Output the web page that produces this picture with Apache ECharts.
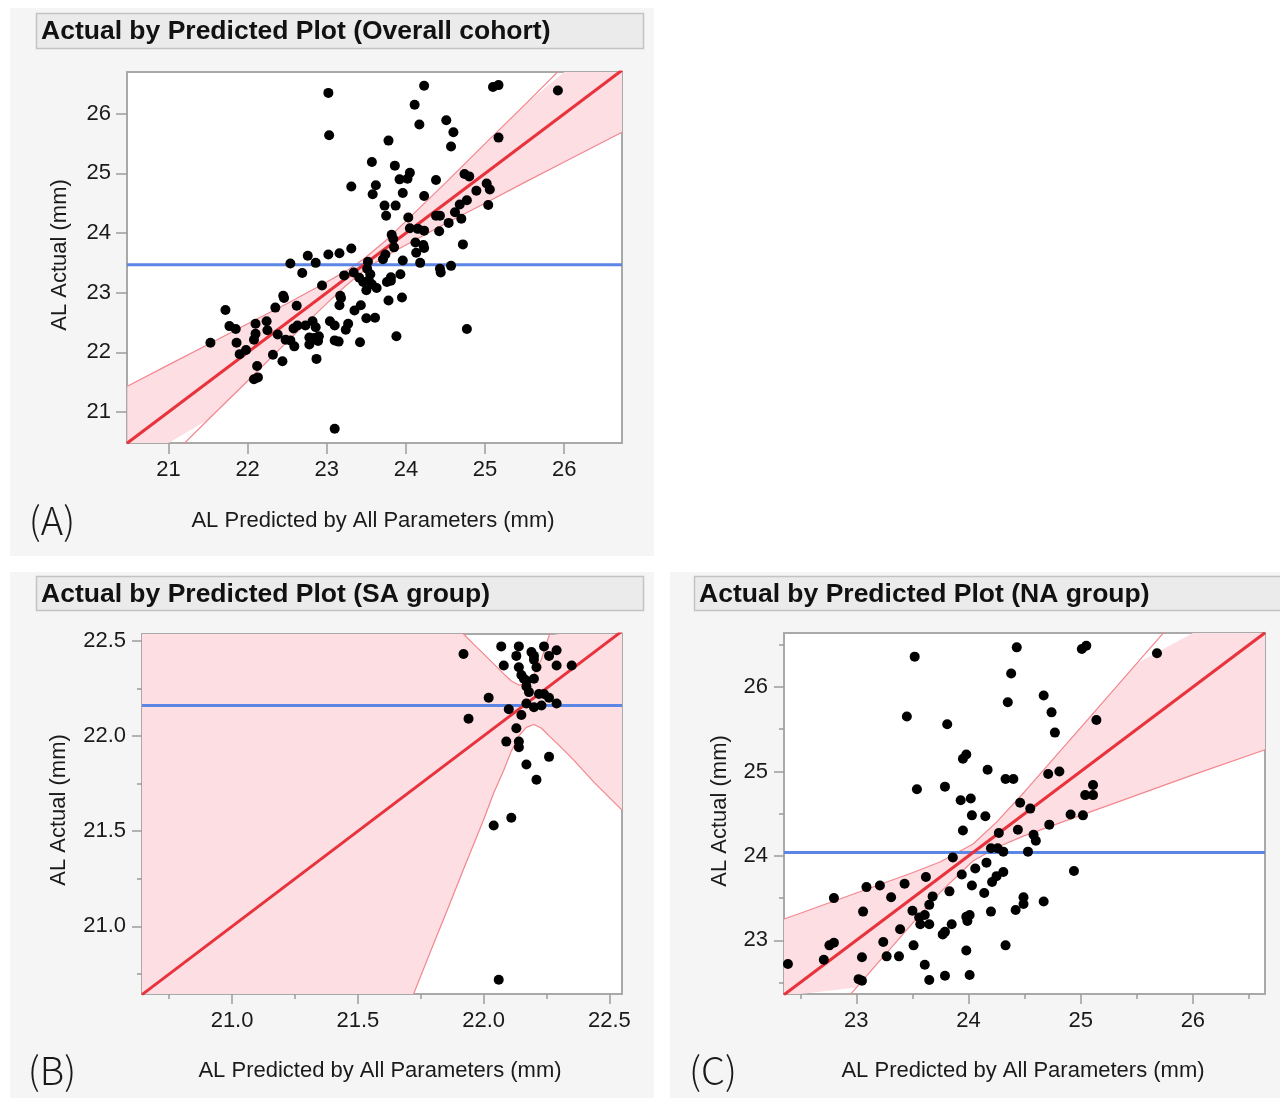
<!DOCTYPE html>
<html>
<head>
<meta charset="utf-8">
<title>Actual by Predicted Plots</title>
<script src="https://cdn.jsdelivr.net/npm/echarts@6/dist/echarts.min.js"></script>
<style>
  html, body { margin: 0; padding: 0; background: #fff; }
  .panel { position: absolute; background: #f5f5f5; }
  #chart { position: absolute; left: 0; top: 0; width: 1280px; height: 1098px; }
</style>
</head>
<body>
<div class="panel" style="left:10px;top:8px;width:644px;height:548px"></div>
<div class="panel" style="left:10px;top:572px;width:644px;height:526px"></div>
<div class="panel" style="left:670px;top:572px;width:610px;height:526px"></div>
<div id="chart"></div>
<script>
// ---------- (A) overall cohort ----------
const aPred = [23.02,24.23,25.10,25.17,25.92,24.11,24.17,23.03,24.51,24.60,24.57,25.17,23.78,23.57,23.86,24.05,23.92,24.02,23.31,23.62,
  23.58,23.96,24.38,24.23,23.73,23.87,23.75,24.03,24.74,24.80,24.89,25.02,25.06,25.04,24.77,24.68,24.62,24.70,24.54,24.42,
  24.38,24.43,24.05,24.15,24.23,23.82,23.84,24.12,24.13,24.22,24.23,24.72,23.85,24.18,23.96,24.43,24.44,24.57,23.93,24.77,
  23.31,23.16,23.02,22.76,22.86,22.54,22.69,23.52,23.71,23.74,23.51,23.55,23.22,23.34,23.41,23.53,23.46,23.57,23.50,23.63,
  23.76,23.81,23.81,22.94,23.17,23.18,23.16,23.43,23.35,23.78,23.95,23.50,23.61,22.45,22.46,22.35,22.62,21.72,22.24,22.10,
  21.77,21.85,22.25,22.10,22.08,22.38,21.86,21.53,21.98,21.90,22.12,22.08,22.13,22.32,22.44,22.48,22.54,22.59,22.58,22.63,
  22.73,22.82,22.86,22.78,22.84,22.78,22.89,22.87,23.04,23.10,23.27,23.24,23.10,23.15,23.42,23.88,23.10,22.90];
const aActual = [26.35,26.47,26.45,26.48,26.39,26.15,25.82,25.64,25.89,25.69,25.45,25.60,25.55,25.19,25.13,25.01,24.90,24.91,24.78,24.80,
  24.65,24.67,24.89,24.62,24.46,24.46,24.29,24.26,24.99,24.95,24.71,24.83,24.73,24.47,24.55,24.48,24.35,24.24,24.17,24.03,
  24.29,24.29,24.08,24.07,24.04,23.97,23.90,23.84,23.67,23.80,23.75,23.81,23.76,23.50,23.54,23.40,23.34,23.45,23.31,22.39,
  23.74,23.66,23.64,23.62,23.50,23.49,23.33,23.52,23.56,23.64,23.40,23.31,23.29,23.34,23.25,23.21,23.18,23.14,23.04,23.08,
  23.18,23.26,23.20,23.12,22.95,22.91,22.79,22.79,22.70,22.87,22.92,22.57,22.58,22.95,22.91,22.75,22.78,22.71,22.52,22.48,
  22.44,22.39,22.37,22.31,22.21,22.30,22.16,22.16,22.04,21.97,21.77,21.55,21.58,21.96,21.85,22.21,22.20,22.10,22.40,22.45,
  22.45,22.52,22.42,22.25,22.24,22.13,22.19,21.89,22.52,22.45,22.48,22.38,22.20,22.18,22.17,22.27,20.72,22.27];
const aMean = 23.47;
const aXRange = [20.476, 26.73];
const aYRange = [20.48, 26.70];
const aTicks = [21, 22, 23, 24, 25, 26];
// confidence curves
const aBandX  = [20.48, 21.0, 21.5, 22.0, 22.5, 23.0, 23.25, 23.47, 23.75, 24.0, 24.5, 25.0, 25.5, 26.0, 26.73];
const aBandHi = [21.43, 21.79, 22.13, 22.48, 22.82, 23.18, 23.37, 23.57, 23.88, 24.20, 24.84, 25.50, 26.15, 26.81, 27.76];
const aBandLo = [19.53, 20.21, 20.87, 21.52, 22.18, 22.82, 23.13, 23.37, 23.62, 23.80, 24.16, 24.50, 24.85, 25.19, 25.69];

// ---------- (B) SA group ----------
const bPred = [22.06,22.04,22.11,22.26,22.17,22.21,22.09,22.14,22.14,22.13,21.94,22.02,22.10,22.15,22.17,22.20,22.23,22.29,22.18,22.22,
  22.24,22.26,22.17,22.17,22.16,22.15,22.20,22.14,22.21,22.08,22.20,22.20,22.19,22.13,22.07,22.14,22.24,22.29,22.26,22.29,22.35,21.92];
const bActual = [20.72,21.53,21.57,21.89,21.85,21.77,21.97,21.97,21.94,22.04,22.09,22.20,22.14,22.11,22.17,22.15,22.16,22.17,22.23,22.22,
  22.22,22.20,22.26,22.29,22.30,22.32,22.30,22.36,22.36,22.37,22.40,22.42,22.44,22.42,22.47,22.47,22.47,22.45,22.42,22.37,22.37,22.43];
const bMean = 22.16;
const bXRange = [20.642, 22.55];
const bYRange = [20.645, 22.535];
const bXTicks = [21.0, 21.5, 22.0, 22.5];
const bXMinor = [20.75, 21.25, 21.75, 22.25];
const bYTicks = [21.0, 21.5, 22.0, 22.5];
const bYMinor = [20.75, 21.25, 21.75, 22.25];
const bBandX  = [20.64, 21.2, 21.6, 21.72, 21.8, 21.86, 21.92, 21.96, 22.0, 22.04, 22.08, 22.11, 22.14, 22.17, 22.2, 22.23, 22.26, 22.3, 22.36, 22.44, 22.55];
const bBandHi = [24.1, 23.4, 22.93, 22.78, 22.68, 22.61, 22.535, 22.482, 22.431, 22.378, 22.326, 22.288, 22.267, 22.275, 22.322, 22.403, 22.526, 22.65, 22.83, 23.07, 23.40];
const bBandLo = [17.2, 18.98, 20.25, 20.64, 20.905, 21.10, 21.30, 21.43, 21.56, 21.70, 21.82, 21.92, 22.00, 22.045, 22.06, 22.04, 22.00, 21.95, 21.87, 21.755, 21.61];

// ---------- (C) NA group ----------
const cPred = [23.52,24.43,25.01,25.05,25.68,24.38,24.35,24.67,24.74,24.77,25.14,23.45,23.81,23.95,23.98,24.17,23.54,23.79,23.93,24.02,
  24.33,24.40,24.71,24.81,25.11,25.04,25.11,24.46,24.55,24.03,24.15,24.91,25.02,24.72,23.95,24.27,24.44,24.58,24.60,24.20,
  24.26,24.31,24.53,23.86,24.16,24.06,23.94,24.31,24.25,24.21,24.03,24.94,23.62,23.43,23.21,23.09,22.80,23.31,23.68,23.83,
  24.14,23.65,24.49,24.49,24.42,24.67,24.20,23.06,23.50,23.56,23.61,23.57,23.65,23.98,24.01,23.99,23.85,23.39,23.77,23.79,
  23.24,23.51,22.76,22.80,24.33,22.71,23.05,23.27,23.38,23.98,22.39,23.61,23.79,24.01,23.02,23.05,23.65];
const cActual = [26.36,26.47,26.45,26.49,26.40,26.16,25.82,25.90,25.70,25.46,25.61,25.65,25.56,25.15,25.20,25.02,24.79,24.82,24.66,24.68,
  24.91,24.91,24.97,25.00,24.84,24.72,24.72,24.63,24.56,24.48,24.47,24.49,24.48,24.37,24.30,24.27,24.31,24.25,24.18,24.09,
  24.09,24.05,24.05,23.98,23.92,23.85,23.78,23.81,23.76,23.69,23.65,23.82,23.75,23.67,23.65,23.63,23.50,23.51,23.52,23.58,
  23.56,23.42,23.51,23.43,23.36,23.46,23.34,23.34,23.35,23.27,23.30,23.19,23.19,23.28,23.30,23.23,23.19,23.13,23.07,23.10,
  22.98,22.94,22.94,22.97,22.94,22.77,22.80,22.81,22.81,22.88,22.72,22.71,22.58,22.59,22.54,22.52,22.53];
const cMean = 24.04;
const cXRange = [22.355, 26.643];
const cYRange = [22.364, 26.64];
const cXTicks = [23, 24, 25, 26];
const cXMinor = [22.5, 23.5, 24.5, 25.5, 26.5];
const cYTicks = [23, 24, 25, 26];
const cYMinor = [22.5, 23.5, 24.5, 25.5, 26.5];
const cBandX  = [22.35, 22.5, 23.0, 23.5, 23.75, 24.04, 24.25, 24.5, 25.0, 25.5, 26.0, 26.65];
const cBandHi = [23.25, 23.32, 23.56, 23.80, 23.93, 24.14, 24.40, 24.76, 25.52, 26.28, 27.04, 28.03];
const cBandLo = [21.46, 21.68, 22.44, 23.20, 23.57, 23.94, 24.10, 24.24, 24.48, 24.72, 24.96, 25.26];

const titleTexts = ['Actual by Predicted Plot (Overall cohort)', 'Actual by Predicted Plot (SA group)', 'Actual by Predicted Plot (NA group)'];
const panelTags = ['(A)', '(B)', '(C)'];
const xName = 'AL Predicted by All Parameters (mm)';
const yName = 'AL Actual (mm)';

const FONT = '"Liberation Sans", Arial, sans-serif';
const RED = '#e8323c', BLUE = '#5c86e6', PINK = '#fddee3', PINK_EDGE = '#f3868e';

const panels = [
  { grid: { left: 127, top: 72, width: 495, height: 371 }, xr: aXRange, yr: aYRange, xt: aTicks, yt: aTicks, xm: null, ym: null,
    fmt: v => String(v), pred: aPred, act: aActual, mean: aMean, bx: aBandX, bh: aBandHi, bl: aBandLo, tickLen: 11 },
  { grid: { left: 142, top: 634, width: 480, height: 360 }, xr: bXRange, yr: bYRange, xt: bXTicks, yt: bYTicks, xm: bXMinor, ym: bYMinor,
    fmt: v => v.toFixed(1), pred: bPred, act: bActual, mean: bMean, bx: bBandX, bh: bBandHi, bl: bBandLo, tickLen: 10 },
  { grid: { left: 784, top: 633, width: 481, height: 361 }, xr: cXRange, yr: cYRange, xt: cXTicks, yt: cYTicks, xm: cXMinor, ym: cYMinor,
    fmt: v => String(v), pred: cPred, act: cActual, mean: cMean, bx: cBandX, bh: cBandHi, bl: cBandLo, tickLen: 10 }
];

function axis(dim, gridIndex, range, ticks, fmt, len, withLabels) {
  return {
    type: 'value', gridIndex: gridIndex, min: range[0], max: range[1],
    position: dim === 'x' ? 'bottom' : 'left',
    axisLine: { show: false, onZero: false },
    axisTick: { show: true, length: len, customValues: ticks, lineStyle: { color: '#9c9c9c', width: 1.5 } },
    axisLabel: withLabels
      ? { show: true, customValues: ticks, formatter: fmt, fontSize: 22, color: '#1a1a1a', margin: 16, fontFamily: FONT }
      : { show: false },
    splitLine: { show: false }
  };
}

const grids = [], xAxes = [], yAxes = [], series = [];

panels.forEach((p, i) => {
  grids.push(Object.assign({ show: true, backgroundColor: '#fff', borderColor: '#a9a9a9', borderWidth: 2 }, p.grid));
  xAxes.push(axis('x', i, p.xr, p.xt, p.fmt, p.tickLen, true));
  yAxes.push(axis('y', i, p.yr, p.yt, p.fmt, p.tickLen, true));
});
// minor tick axes for B and C
panels.forEach((p, i) => {
  if (p.xm) {
    p.xMinorIdx = xAxes.length; xAxes.push(axis('x', i, p.xr, p.xm, p.fmt, 5, false));
    p.yMinorIdx = yAxes.length; yAxes.push(axis('y', i, p.yr, p.ym, p.fmt, 5, false));
  }
});

panels.forEach((p, i) => {
  const bx = p.bx, bh = p.bh, bl = p.bl;
  // shaded confidence region
  series.push({
    type: 'custom', xAxisIndex: i, yAxisIndex: i, silent: true, z: 1,
    data: [[p.xr[0], p.yr[0]]],
    renderItem: function (params, api) {
      const cs = params.coordSys;
      const clamp = pt => [Math.min(Math.max(pt[0], cs.x), cs.x + cs.width), Math.min(Math.max(pt[1], cs.y), cs.y + cs.height)];
      const pts = [];
      for (let k = 0; k < bx.length; k++) pts.push(clamp(api.coord([bx[k], bh[k]])));
      for (let k = bx.length - 1; k >= 0; k--) pts.push(clamp(api.coord([bx[k], bl[k]])));
      return { type: 'polygon', shape: { points: pts }, style: { fill: PINK } };
    }
  });
  // curve edges
  [bh, bl].forEach(arr => {
    series.push({
      type: 'line', xAxisIndex: i, yAxisIndex: i, silent: true, z: 2, symbol: 'none', clip: true,
      data: bx.map((x, k) => [x, arr[k]]),
      lineStyle: { color: PINK_EDGE, width: 1.2 }
    });
  });
  // mean line
  series.push({
    type: 'line', xAxisIndex: i, yAxisIndex: i, silent: true, z: 3, symbol: 'none',
    data: [[p.xr[0], p.mean], [p.xr[1], p.mean]],
    lineStyle: { color: BLUE, width: 3 }
  });
  // fit line (actual = predicted)
  series.push({
    type: 'line', xAxisIndex: i, yAxisIndex: i, silent: true, z: 4, symbol: 'none', clip: true,
    data: [[p.xr[0], p.xr[0]], [p.xr[1], p.xr[1]]],
    lineStyle: { color: RED, width: 3 }
  });
  // observations
  series.push({
    type: 'scatter', xAxisIndex: i, yAxisIndex: i, z: 5, symbolSize: 10,
    data: p.pred.map((x, k) => [x, p.act[k]]),
    itemStyle: { color: '#000', opacity: 1 }
  });
});

// titles, axis names, panel tags
const titleBoxes = [
  { x: 36.5, y: 13.5, w: 607, h: 35 },
  { x: 36.5, y: 576.5, w: 607, h: 34 },
  { x: 694.5, y: 576.5, w: 590, h: 34 }
];
const xNamePos = [[373, 521], [380, 1071], [1023, 1071]];
const yNamePos = [[60, 255], [59, 810], [720, 811]];
const tagPos = [[52, 521], [52, 1071], [713, 1071]];

const graphics = [];
titleBoxes.forEach((t, i) => {
  graphics.push({ type: 'rect', z: 10, shape: { x: t.x, y: t.y, width: t.w, height: t.h },
    style: { fill: '#ebebeb', stroke: '#c3c3c3', lineWidth: 1.5 } });
  graphics.push({ type: 'text', z: 11, x: t.x + 4.5, y: t.y + t.h / 2 + 1,
    style: { text: titleTexts[i], fontSize: 26.5, fontWeight: 'bold', fontFamily: FONT, fill: '#111', align: 'left', verticalAlign: 'middle' } });
  graphics.push({ type: 'text', z: 11, x: xNamePos[i][0], y: xNamePos[i][1],
    style: { text: xName, fontSize: 22, fontFamily: FONT, fill: '#1a1a1a', align: 'center', verticalAlign: 'middle' } });
  graphics.push({ type: 'text', z: 11, x: yNamePos[i][0], y: yNamePos[i][1], rotation: Math.PI / 2,
    style: { text: yName, fontSize: 22, fontFamily: FONT, fill: '#1a1a1a', align: 'center', verticalAlign: 'middle' } });
  graphics.push({ type: 'text', z: 11, x: tagPos[i][0], y: tagPos[i][1],
    style: { text: panelTags[i], fontSize: 38, fontWeight: 300, fontFamily: '"Noto Sans CJK JP", "DejaVu Sans", sans-serif', fill: '#1a1a1a', align: 'center', verticalAlign: 'middle' } });
});

const chart = echarts.init(document.getElementById('chart'));
chart.setOption({
  animation: false,
  backgroundColor: 'transparent',
  grid: grids,
  xAxis: xAxes,
  yAxis: yAxes,
  series: series,
  graphic: { elements: graphics }
});
</script>
</body>
</html>
